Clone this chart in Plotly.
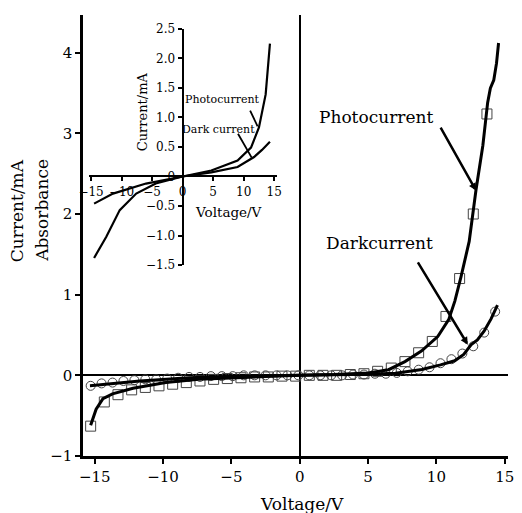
import plotly.graph_objects as go

# ---- main chart data ----
photo_v = [-15.3, -14.3, -13.3, -12.3, -11.3, -10.3, -9.3, -8.3, -7.3, -6.3,
           -5.3, -4.3, -3.3, -2.3, -1.3, -0.3, 0.7, 1.7, 2.7, 3.7,
           4.7, 5.7, 6.7, 7.7, 8.7, 9.7, 10.7, 11.7, 12.7, 13.7]
photo_i = [-0.63, -0.33, -0.24, -0.18, -0.15, -0.13, -0.11, -0.09, -0.07, -0.05,
           -0.04, -0.03, -0.02, -0.02, -0.01, -0.01, 0.0, 0.0, 0.0, 0.01,
           0.02, 0.05, 0.09, 0.17, 0.28, 0.42, 0.73, 1.2, 2.0, 3.24]

dark_v = [-15.3, -14.5, -13.7, -12.9, -12.1, -11.3, -10.5, -9.7, -8.9, -8.1,
          -7.3, -6.5, -5.7, -4.9, -4.1, -3.3, -2.5, -1.7, -0.9, -0.1,
          0.7, 1.5, 2.3, 3.1, 3.9, 4.7, 5.5, 6.3, 7.1, 7.9,
          8.7, 9.5, 10.3, 11.1, 11.9, 12.7, 13.5, 14.3]
dark_i = [-0.13, -0.10, -0.09, -0.07, -0.06, -0.05, -0.05, -0.04, -0.03, -0.02,
          -0.02, -0.01, -0.01, -0.01, 0.0, 0.0, 0.0, 0.0, 0.0, 0.0,
          0.0, 0.0, 0.0, 0.0, 0.01, 0.01, 0.02, 0.02, 0.03, 0.05,
          0.07, 0.10, 0.15, 0.20, 0.27, 0.36, 0.53, 0.79]

photo_fit_v = [-15.3, -15.1, -14.9, -14.4, -13.7, -12.2, -9.8, -7.4, -5.0, -2.5,
               0.0, 2.5, 5.0, 6.5, 7.7, 8.9, 10.1, 10.9, 11.35, 11.8,
               12.4, 12.9, 13.4, 13.75, 13.95, 14.2, 14.4, 14.55]
photo_fit_i = [-0.62, -0.52, -0.42, -0.29, -0.23, -0.16, -0.09, -0.05, -0.03, -0.015,
               0.0, 0.01, 0.03, 0.07, 0.17, 0.30, 0.48, 0.69, 0.92, 1.22,
               1.66, 2.30, 2.85, 3.38, 3.56, 3.66, 3.87, 4.12]

dark_fit_v = [-15.35, -11.7, -8.1, -4.5, 0.0, 3.0, 5.0, 7.0, 8.94, 10.3,
              11.34, 12.0, 12.55, 13.0, 13.5, 14.0, 14.47]
dark_fit_i = [-0.13, -0.07, -0.03, -0.01, 0.0, 0.005, 0.012, 0.025, 0.073, 0.13,
              0.18, 0.26, 0.38, 0.44, 0.55, 0.70, 0.87]

main_xticks = [-15, -10, -5, 0, 5, 10, 15]
main_yticks = [-1, 0, 1, 2, 3, 4]

# ---- inset data ----
inset_photo_v = [-14.5, -13.5, -12.5, -10.3, -7.6, -4.4, 0.0, 4.7, 9.0, 11.2, 12.5, 13.6, 13.9, 14.3]
inset_photo_i = [-1.38, -1.19, -1.02, -0.57, -0.29, -0.12, 0.0, 0.10, 0.27, 0.49, 0.83, 1.39, 1.78, 2.25]
inset_dark_v = [-14.5, -11.4, -6.0, 0.0, 4.7, 9.0, 11.7, 13.0, 14.3]
inset_dark_i = [-0.46, -0.29, -0.12, 0.0, 0.07, 0.16, 0.33, 0.45, 0.59]

inset_xticks = [-15, -10, -5, 0, 5, 10, 15]
inset_yticks = [-1.5, -1.0, -0.5, 0, 0.5, 1.0, 1.5, 2.0, 2.5]
inset_yticktext = ["\u22121.5", "\u22121.0", "\u22120.5", "0", "0.5", "1.0", "1.5", "2.0", "2.5"]

FONT = "DejaVu Serif"

fig = go.Figure()

fig.add_trace(go.Scatter(x=photo_v, y=photo_i, mode="markers",
                         marker=dict(symbol="square-open", size=10, color="#444",
                                     line=dict(width=1, color="#444")),
                         showlegend=False))
fig.add_trace(go.Scatter(x=dark_v, y=dark_i, mode="markers",
                         marker=dict(symbol="circle-open", size=9, color="#444",
                                     line=dict(width=1, color="#444")),
                         showlegend=False))
fig.add_trace(go.Scatter(x=photo_fit_v, y=photo_fit_i, mode="lines",
                         line=dict(color="black", width=3), showlegend=False))
fig.add_trace(go.Scatter(x=dark_fit_v, y=dark_fit_i, mode="lines",
                         line=dict(color="black", width=3), showlegend=False))

fig.add_trace(go.Scatter(x=inset_photo_v, y=inset_photo_i, mode="lines",
                         line=dict(color="black", width=2.2), showlegend=False,
                         xaxis="x2", yaxis="y2"))
fig.add_trace(go.Scatter(x=inset_dark_v, y=inset_dark_i, mode="lines",
                         line=dict(color="black", width=2.2), showlegend=False,
                         xaxis="x2", yaxis="y2"))

W, H = 522, 513
L, R, T, B = 83, 8, 11, 57
pw, ph = W - L - R, H - T - B

def px(xp):
    return (xp - L) / pw

def py(yp):
    return (H - B - yp) / ph

fig.update_layout(
    width=W, height=H,
    margin=dict(l=L, r=R, t=T, b=B),
    plot_bgcolor="white", paper_bgcolor="white",
    font=dict(family=FONT, color="black", size=15),
    xaxis=dict(range=[-15.86, 15.24], tickvals=main_xticks, ticks="outside",
               ticklen=5, tickwidth=2, tickcolor="black",
               showline=True, linecolor="black", linewidth=2.5,
               showgrid=False, zeroline=True, zerolinecolor="black", zerolinewidth=1.5,
               tickfont=dict(size=15, family=FONT)),
    yaxis=dict(range=[-1.0, 4.467], tickvals=main_yticks, ticks="outside",
               ticklen=5, tickwidth=2, tickcolor="black",
               showline=True, linecolor="black", linewidth=2.5,
               showgrid=False, zeroline=True, zerolinecolor="black", zerolinewidth=1.5,
               tickfont=dict(size=15, family=FONT)),
    xaxis2=dict(domain=[px(89.3), px(280)], range=[-15.3, 15.5], anchor="free",
                position=py(173.9), tickvals=inset_xticks, ticks="outside",
                ticklen=4, tickwidth=1.5, tickcolor="black",
                showline=True, linecolor="black", linewidth=2,
                showgrid=False, zeroline=False,
                tickfont=dict(size=12, family=FONT)),
    yaxis2=dict(domain=[py(263.3), py(25)], range=[-1.5, 2.5], anchor="free",
                position=px(184), tickvals=inset_yticks, ticktext=inset_yticktext,
                ticks="outside", ticklen=4, tickwidth=1.5, tickcolor="black",
                showline=True, linecolor="black", linewidth=2,
                showgrid=False, zeroline=False,
                tickfont=dict(size=12, family=FONT)),
)

C = dict(xanchor="center", yanchor="middle", showarrow=False)
ann = []
# axis titles
ann.append(dict(text="Voltage/V", xref="paper", yref="paper", x=px(305), y=py(504),
                font=dict(size=17, family=FONT), **C))
ann.append(dict(text="Current/mA", xref="paper", yref="paper", x=px(16), y=py(208),
                textangle=-90, font=dict(size=17, family=FONT), **C))
ann.append(dict(text="Absorbance", xref="paper", yref="paper", x=px(42), y=py(208),
                textangle=-90, font=dict(size=17, family=FONT), **C))
# main labels
ann.append(dict(text="Photocurrent", xref="x", yref="y", x=5.6, y=3.2,
                font=dict(size=17, family=FONT), **C))
ann.append(dict(text="Darkcurrent", xref="x", yref="y", x=5.8, y=1.64,
                font=dict(size=17, family=FONT), **C))
ann.append(dict(text="", xref="x", yref="y", x=12.9, y=2.29, ax=10.25, ay=3.09,
                axref="x", ayref="y", showarrow=True, arrowhead=2, arrowsize=0.6,
                arrowwidth=2.5, arrowcolor="black"))
ann.append(dict(text="", xref="x", yref="y", x=12.3, y=0.38, ax=8.58, ay=1.42,
                axref="x", ayref="y", showarrow=True, arrowhead=2, arrowsize=0.6,
                arrowwidth=2.5, arrowcolor="black"))
# inset labels
ann.append(dict(text="Current/mA", xref="paper", yref="paper", x=px(143), y=py(109),
                textangle=-90, font=dict(size=13, family=FONT), **C))
ann.append(dict(text="Voltage/V", xref="paper", yref="paper", x=px(231), y=py(210),
                font=dict(size=13.5, family=FONT), **C))
ann.append(dict(text="Photocurrent", xref="x2", yref="y2", x=6.5, y=1.30,
                font=dict(size=11, family=FONT), **C))
ann.append(dict(text="Dark current", xref="x2", yref="y2", x=5.86, y=0.80,
                font=dict(size=11, family=FONT), **C))
ann.append(dict(text="", xref="x2", yref="y2", x=12.28, y=0.85, ax=10.94, ay=1.14,
                axref="x2", ayref="y2", showarrow=True, arrowhead=0,
                arrowwidth=1.8, arrowcolor="black"))
ann.append(dict(text="", xref="x2", yref="y2", x=11.31, y=0.32, ax=8.93, ay=0.75,
                axref="x2", ayref="y2", showarrow=True, arrowhead=0,
                arrowwidth=1.8, arrowcolor="black"))
fig.update_layout(annotations=ann)

# remove the browser's default 8px body margin so the figure sits at (0, 0)
fig.write_html("out.html",
               config={"displayModeBar": False},
               post_script="document.body.style.margin='0';document.body.style.overflow='hidden';")
